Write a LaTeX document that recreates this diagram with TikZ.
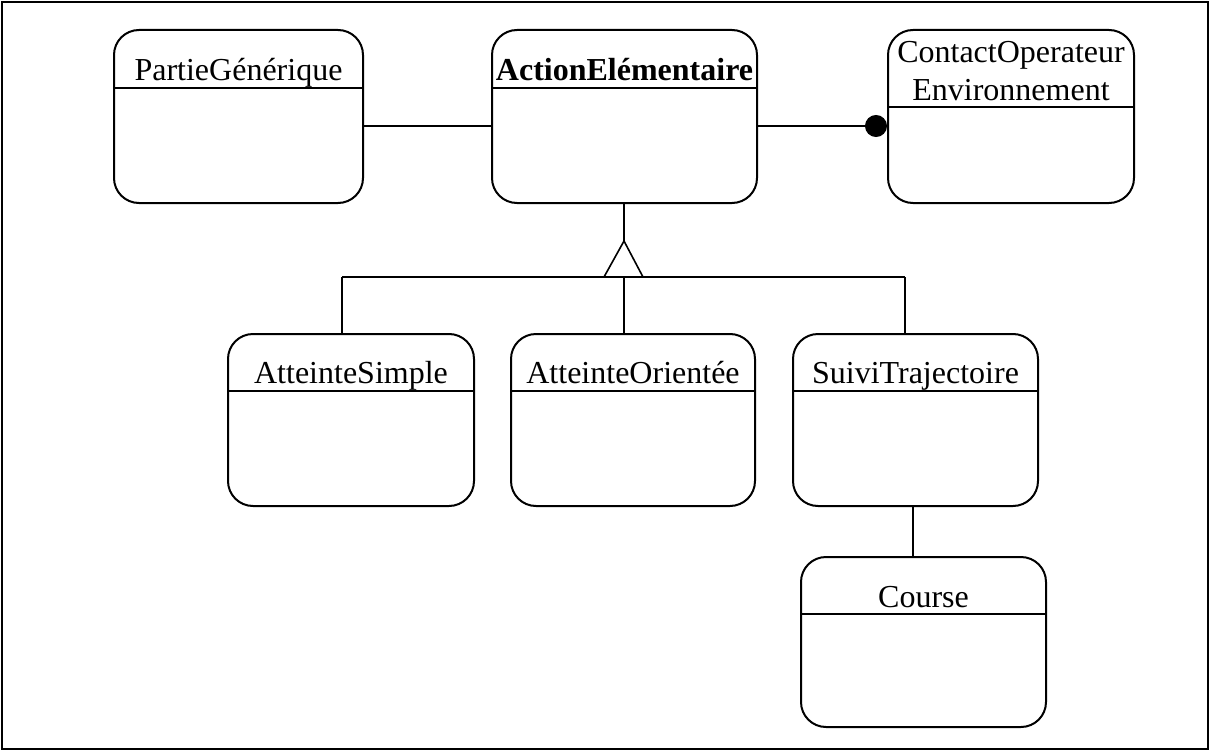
\documentclass[tikz,border=0pt]{standalone}
\usepackage{fontspec}
\setmainfont{Liberation Serif}
\usetikzlibrary{arrows.meta}
\begin{document}
\begin{tikzpicture}[x=1pt,y=-1pt,
  umlbox/.style={draw, line width=2pt, rounded corners=25pt, anchor=north west, inner sep=0pt},
  conn/.style={line width=1.6pt},
  hline/.style={line width=2pt},
  lbl/.style={anchor=base, inner sep=0pt, font=\fontsize{32}{38}\selectfont}]
\useasboundingbox (0,0) rectangle (1213,752);
\draw[line width=1.6pt] (2,2) rectangle (1208,749);

% boxes
\node[umlbox, minimum width=249pt, minimum height=173pt] (pg) at (113,29) {};
\node[umlbox, minimum width=265pt, minimum height=173pt] (ae) at (491,29) {};
\node[umlbox, minimum width=246pt, minimum height=173pt] (ce) at (887,29) {};
\node[umlbox, minimum width=246pt, minimum height=172pt] (as) at (227,333) {};
\node[umlbox, minimum width=244pt, minimum height=172pt] (ao) at (510,333) {};
\node[umlbox, minimum width=245pt, minimum height=172pt] (st) at (792,333) {};
\node[umlbox, minimum width=245pt, minimum height=170pt] (co) at (800,556) {};

% header separators
\draw[hline] (pg.west |- 0,88) -- (pg.east |- 0,88);
\draw[hline] (ae.west |- 0,88) -- (ae.east |- 0,88);
\draw[hline] (ce.west |- 0,107) -- (ce.east |- 0,107);
\draw[hline] (as.west |- 0,391) -- (as.east |- 0,391);
\draw[hline] (ao.west |- 0,391) -- (ao.east |- 0,391);
\draw[hline] (st.west |- 0,391) -- (st.east |- 0,391);
\draw[hline] (co.west |- 0,614) -- (co.east |- 0,614);

% labels
\node[lbl] (tpg) at (pg.north |- 0,81) {PartieGénérique};
\node[lbl, font=\fontsize{32}{38}\selectfont\bfseries] (tae) at (ae.north |- 0,81) {ActionElémentaire};
\node[lbl] (tce1) at (ce.north |- 0,63) {ContactOperateur};
\node[lbl] (tce2) at (ce.north |- 0,100) {Environnement};
\node[lbl] (tas) at (as.north |- 0,383) {AtteinteSimple};
\node[lbl] (tao) at (ao.north |- 0,383) {AtteinteOrientée};
\node[lbl] (tst) at (st.north |- 0,383) {SuiviTrajectoire};
\node[lbl] (tco) at (co.north |- 0,607) {Course};

% associations
\draw[conn] (pg.east |- 0,126) -- (ae.west |- 0,126);
\draw[conn, -{Circle[length=22pt,width=22pt]}] (ae.east |- 0,126) -- (ce.west |- 0,126);
\draw[conn] (st.south -| 913,0) -- (co.north -| 913,0);

% generalization
\coordinate (apex) at (624,241);
\coordinate (bl) at (604,277);
\coordinate (br) at (643,277);
\coordinate (jl) at (342,277);
\coordinate (jr) at (905,277);
\draw[conn] (ae.south -| apex) -- (apex);
\draw[conn] (jl) -- (jr);
\draw[conn] (jl) -- (as.north -| jl);
\draw[conn] (apex |- jl) -- (ao.north -| apex);
\draw[conn] (jr) -- (st.north -| jr);
\draw[conn, fill=white, line join=miter] (bl) -- (apex) -- (br) -- cycle;
\end{tikzpicture}
\end{document}
